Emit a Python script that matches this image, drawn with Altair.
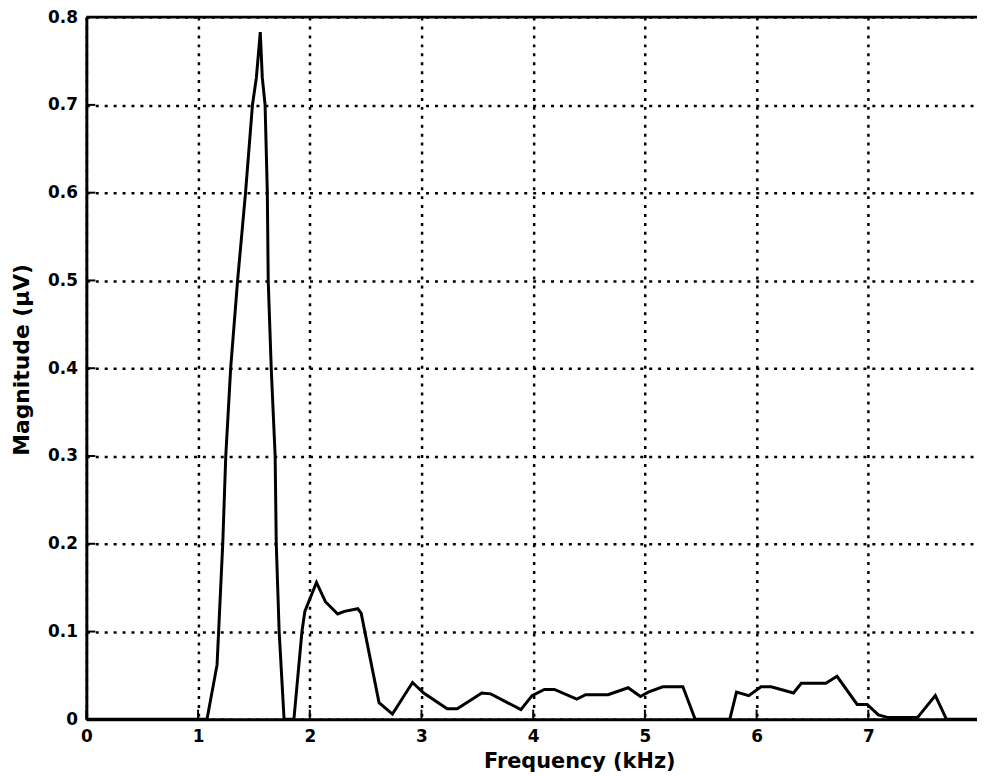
import altair as alt
import pandas as pd

# Spectrum
freq_khz = [0.0, 1.08, 1.17, 1.221, 1.248, 1.292, 1.354, 1.425, 1.487, 1.522, 1.557,
            1.575, 1.60, 1.62, 1.628, 1.655, 1.69, 1.70, 1.726, 1.77, 1.858, 1.93,
            1.956, 2.06, 2.14, 2.25, 2.31, 2.43, 2.46, 2.62, 2.74, 2.92, 3.02, 3.23,
            3.32, 3.54, 3.62, 3.89, 3.99, 4.10, 4.19, 4.39, 4.47, 4.67, 4.85, 4.96,
            5.03, 5.16, 5.34, 5.45, 5.76, 5.82, 5.93, 6.04, 6.13, 6.33, 6.40, 6.62,
            6.72, 6.90, 6.99, 7.09, 7.18, 7.44, 7.60, 7.70, 8.0]
magnitude_uv = [0.0, 0.0, 0.062, 0.2, 0.3, 0.4, 0.5, 0.6, 0.7, 0.731, 0.783,
                0.731, 0.7, 0.6, 0.5, 0.4, 0.3, 0.2, 0.1, 0.0, 0.0, 0.1,
                0.123, 0.156, 0.134, 0.12, 0.123, 0.126, 0.121, 0.019, 0.006, 0.042, 0.03, 0.012,
                0.012, 0.03, 0.029, 0.011, 0.027, 0.034, 0.034, 0.023, 0.028, 0.028, 0.036, 0.026,
                0.031, 0.037, 0.037, 0.0, 0.0, 0.031, 0.027, 0.037, 0.037, 0.03, 0.041, 0.041,
                0.049, 0.017, 0.017, 0.005, 0.002, 0.002, 0.027, 0.0, 0.0]

x_ticks = [0, 1, 2, 3, 4, 5, 6, 7, 8]
y_ticks = [0, 0.1, 0.2, 0.3, 0.4, 0.5, 0.6, 0.7, 0.8]

W, H = 898, 708
FONT = "DejaVu Sans"

df = pd.DataFrame({"f": freq_khz, "m": magnitude_uv})
xt = pd.DataFrame({"f": x_ticks[:-1]})
yt = pd.DataFrame({"m": y_ticks[:-1]})

x_scale = alt.Scale(domain=[0, 7.973], nice=False, zero=False)
y_scale = alt.Scale(domain=[0, 0.8], nice=False)

x_axis = alt.Axis(
    values=x_ticks, format="d", title="Frequency (kHz)", grid=True, gridColor="black",
    gridDash=[3, 6], gridWidth=2.5, gridOpacity=1, domainColor="black", domainWidth=3,
    ticks=False, tickSize=0, labelFont=FONT, labelFontSize=17, labelFontWeight="bold",
    labelColor="black", labelPadding=9, labelFlush=False, labelOverlap=False,
    titleFont=FONT, titleFontSize=21, titleFontWeight="bold", titleColor="black",
    titleX=497, titleY=49, titleBaseline="alphabetic", titleAlign="center",
)
y_axis = alt.Axis(
    values=y_ticks, title="Magnitude (μV)", grid=True, gridColor="black",
    gridDash=[3, 6], gridWidth=2.5, gridOpacity=1, domainColor="black", domainWidth=3,
    ticks=False, tickSize=0, labelFont=FONT, labelFontSize=17, labelFontWeight="bold",
    labelColor="black", labelPadding=9, labelFlush=False, labelOverlap=False,
    labelExpr="datum.value == 0 ? '0' : format(datum.value, '.1f')",
    titleFont=FONT, titleFontSize=22, titleFontWeight="bold", titleColor="black",
    titleX=-58, titleY=345, titleAngle=270, titleBaseline="alphabetic", titleAlign="center",
)

line = alt.Chart(df).mark_line(color="black", strokeWidth=3).encode(
    x=alt.X("f:Q", scale=x_scale, axis=x_axis),
    y=alt.Y("m:Q", scale=y_scale, axis=y_axis),
)

xtick_marks = alt.Chart(xt).mark_rule(color="black", strokeWidth=2).encode(
    x=alt.X("f:Q", scale=x_scale, axis=x_axis),
    y=alt.datum(0),
    y2=alt.datum(0.011),
)
ytick_marks = alt.Chart(yt).mark_rule(color="black", strokeWidth=2).encode(
    y=alt.Y("m:Q", scale=y_scale, axis=y_axis),
    x=alt.datum(0),
    x2=alt.datum(0.08),
)
top_border = alt.Chart(pd.DataFrame({"a": [0]})).mark_rule(color="black", strokeWidth=3).encode(
    x=alt.datum(0),
    x2=alt.datum(8),
    y=alt.datum(0.8),
)

chart = alt.layer(line, xtick_marks, ytick_marks, top_border).properties(
    width=W, height=H,
    autosize=alt.AutoSizeParams(type="none"),
    padding={"left": 79, "top": 6, "right": 0, "bottom": 60},
    background="white",
).configure_view(stroke=None)

chart.save("out.html", embed_options={"renderer": "svg", "actions": False})
